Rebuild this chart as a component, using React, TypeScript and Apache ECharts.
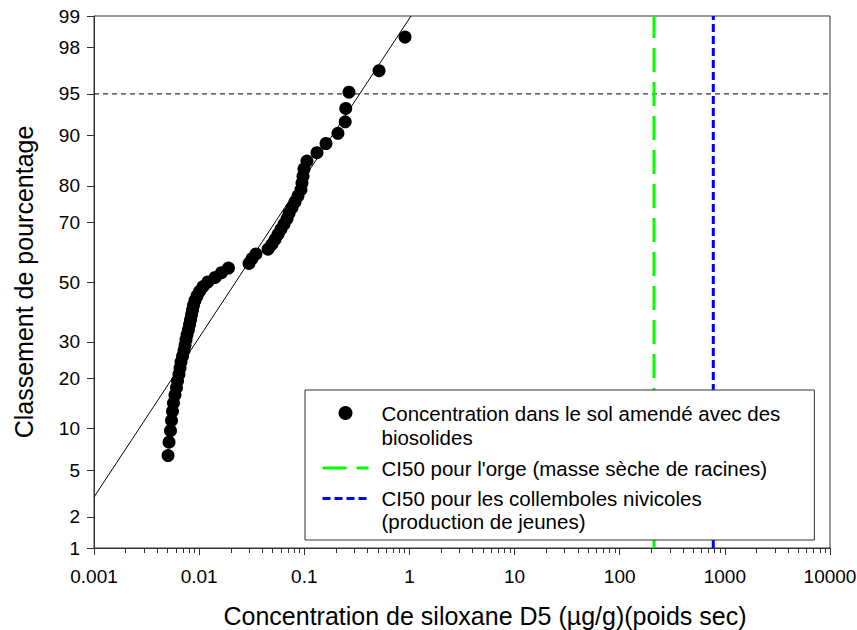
import React, { useEffect, useRef } from "react";
import * as echarts from "echarts";

// ---- Data ----
const concentration = [
  0.00506, 0.00517, 0.00534, 0.00546, 0.00558, 0.0057, 0.00589, 0.00609, 0.00623, 0.00643,
  0.00658, 0.00672, 0.00695, 0.00718, 0.00734, 0.0075, 0.00767, 0.00792, 0.0081, 0.00828,
  0.00846, 0.00865, 0.00884, 0.00913, 0.00954, 0.0101, 0.0109, 0.0121, 0.0142, 0.0163,
  0.019, 0.0298, 0.0318, 0.0347, 0.0452, 0.0493, 0.0527, 0.0562, 0.06, 0.0641,
  0.0685, 0.0715, 0.0764, 0.0816, 0.0871, 0.093, 0.0951, 0.0972, 0.0994, 0.106,
  0.132, 0.161, 0.209, 0.245, 0.248, 0.266, 0.514, 0.908,
];
const percentRank = [
  6.45, 8.06, 9.68, 11.29, 12.9, 14.52, 16.13, 17.74, 19.35, 20.97,
  22.58, 24.19, 25.81, 27.42, 29.03, 30.65, 32.26, 33.87, 35.48, 37.1,
  38.71, 40.32, 41.94, 43.55, 45.16, 46.77, 48.39, 50.0, 51.61, 53.23,
  54.84, 56.45, 58.06, 59.68, 61.29, 62.9, 64.52, 66.13, 67.74, 69.35,
  70.97, 72.58, 74.19, 75.81, 77.42, 79.03, 80.65, 82.26, 83.87, 85.48,
  87.1, 88.71, 90.32, 91.94, 93.55, 95.16, 96.77, 98.39,
];
const fitConc = [0.001, 1.035];
const fitPct = [3.0, 99];
const barleyIC50 = 212;
const springtailIC50 = 776;
const refPercent = 95;
const yTickPercents = [1, 2, 5, 10, 20, 30, 50, 70, 80, 90, 95, 98, 99];
const xTickLabels = [0.001, 0.01, 0.1, 1, 10, 100, 1000, 10000];
const minorMultipliers = [2, 3, 4, 5, 6, 7, 8, 9];

const NAME_PTS = "Concentration dans le sol amendé avec des";
const NAME_PTS2 = "biosolides";
const NAME_BARLEY = "CI50 pour l'orge (masse sèche de racines)";
const NAME_SPRING = "CI50 pour les collemboles nivicoles";
const NAME_SPRING2 = "(production de jeunes)";

// inverse standard normal CDF (Acklam)
function probit(p: number): number {
  const a = [-39.69683028665376, 220.9460984245205, -275.9285104469687, 138.357751867269, -30.66479806614716, 2.506628277459239];
  const b = [-54.47609879822406, 161.5858368580409, -155.6989798598866, 66.80131188771972, -13.28068155288572];
  const c = [-0.007784894002430293, -0.3223964580411365, -2.400758277161838, -2.549671010229297, 4.374664141464968, 2.938163982698783];
  const d = [0.007784695709041462, 0.3224671290700398, 2.445134137142996, 3.754408661907416];
  const plow = 0.02425;
  if (p < plow) {
    const q = Math.sqrt(-2 * Math.log(p));
    return (((((c[0] * q + c[1]) * q + c[2]) * q + c[3]) * q + c[4]) * q + c[5]) / ((((d[0] * q + d[1]) * q + d[2]) * q + d[3]) * q + 1);
  }
  if (p <= 1 - plow) {
    const q = p - 0.5;
    const r = q * q;
    return ((((((a[0] * r + a[1]) * r + a[2]) * r + a[3]) * r + a[4]) * r + a[5]) * q) / (((((b[0] * r + b[1]) * r + b[2]) * r + b[3]) * r + b[4]) * r + 1);
  }
  const q = Math.sqrt(-2 * Math.log(1 - p));
  return -(((((c[0] * q + c[1]) * q + c[2]) * q + c[3]) * q + c[4]) * q + c[5]) / ((((d[0] * q + d[1]) * q + d[2]) * q + d[3]) * q + 1);
}
const pz = (pct: number) => probit(pct / 100);

export default function App() {
  const ref = useRef<HTMLDivElement>(null);
  useEffect(() => {
    if (!ref.current) return;
    const chart = echarts.init(ref.current, undefined, { renderer: "svg" });
    const zMin = pz(yTickPercents[0]);
    const zMax = pz(yTickPercents[yTickPercents.length - 1]);
    const yTickZ = yTickPercents.map(pz);
    const xMin = xTickLabels[0];
    const xMax = xTickLabels[xTickLabels.length - 1];
    const minorTicksLog: number[] = [];
    for (let i = 0; i < xTickLabels.length - 1; i++) {
      minorMultipliers.forEach((m) => {
        minorTicksLog.push(Math.log10(xTickLabels[i] * m));
      });
    }
    const axisColor = "#333";
    const font = "'Liberation Sans', Arial, sans-serif";
    const clear = "rgba(0,0,0,0)";

    chart.setOption({
      animation: false,
      textStyle: { fontFamily: font },
      grid: {
        left: 94, top: 16, width: 736, height: 532,
        show: true, borderColor: axisColor, borderWidth: 1,
        outerBoundsMode: "none",
      },
      xAxis: [
        {
          type: "log", logBase: 10, min: xMin, max: xMax, splitNumber: 7,
          axisLine: { show: true, onZero: false, lineStyle: { color: axisColor, width: 1 } },
          axisTick: { show: true, length: 7, lineStyle: { color: axisColor } },
          axisLabel: {
            fontSize: 19, color: "#000", margin: 19, fontFamily: font,
            formatter: (v: number) => String(Number(v.toPrecision(4))),
          },
          splitLine: { show: false },
          name: "Concentration de siloxane D5 (µg/g)(poids sec)",
          nameLocation: "middle", nameGap: 55,
          nameTextStyle: { fontSize: 25, color: "#000", fontFamily: font, padding: [0, 0, 0, 46] },
        },
        {
          // minor (2..9) ticks of the logarithmic scale, in log10 units
          type: "value", min: Math.log10(xMin), max: Math.log10(xMax), position: "bottom",
          axisLine: { show: true, onZero: false, lineStyle: { color: axisColor, width: 1 } },
          axisTick: { show: true, length: 5, customValues: minorTicksLog, lineStyle: { color: axisColor } },
          axisLabel: { show: false },
          splitLine: { show: false },
        },
      ],
      yAxis: {
        type: "value", min: zMin, max: zMax,
        axisLine: { show: true, onZero: false, lineStyle: { color: axisColor, width: 1 } },
        axisTick: { show: true, length: 7, customValues: yTickZ, lineStyle: { color: axisColor } },
        axisLabel: {
          customValues: yTickZ, fontSize: 19, color: "#000", margin: 14, fontFamily: font,
          formatter: (v: number) => {
            let best = yTickPercents[0];
            let bd = Infinity;
            yTickPercents.forEach((p) => {
              const dd = Math.abs(pz(p) - v);
              if (dd < bd) { bd = dd; best = p; }
            });
            return String(best);
          },
        },
        splitLine: { show: false },
        name: "Classement de pourcentage",
        nameLocation: "middle", nameGap: 58,
        nameTextStyle: { fontSize: 25, color: "#000", fontFamily: font },
      },
      legend: {
        orient: "vertical", left: 305, top: 390,
        padding: [12, 34, 8, 16],
        itemGap: 2, itemWidth: 46, itemHeight: 14,
        backgroundColor: "#fff", borderColor: axisColor, borderWidth: 1,
        selectedMode: false,
        lineStyle: { width: 3 },
        textStyle: { fontSize: 20.5, color: "#000", fontFamily: font, padding: [0, 0, 0, 8] },
        data: [
          { name: NAME_PTS, textStyle: { lineHeight: 22 } },
          { name: NAME_PTS2, textStyle: { lineHeight: 22 } },
          { name: NAME_BARLEY, textStyle: { lineHeight: 36 } },
          { name: NAME_SPRING, textStyle: { lineHeight: 15 } },
          { name: NAME_SPRING2, textStyle: { lineHeight: 20 } },
        ],
      },
      series: [
        {
          name: "fit", type: "line", z: 1, silent: true, symbol: "none",
          lineStyle: { color: "#000", width: 1 },
          data: fitConc.map((c, i) => [c, pz(fitPct[i])]),
        },
        {
          name: "ref95", type: "line", z: 1, silent: true, symbol: "none",
          lineStyle: { color: "#000", width: 1, type: [5, 4] },
          data: [[xMin, pz(refPercent)], [xMax, pz(refPercent)]],
        },
        {
          name: NAME_BARLEY, type: "line", z: 2, symbol: "none",
          lineStyle: { color: "#00ff00", width: 3, type: [24, 10] },
          itemStyle: { color: clear, borderColor: clear, borderWidth: 0 },
          data: [[barleyIC50, zMin], [barleyIC50, zMax]],
        },
        {
          name: NAME_SPRING, type: "line", z: 2, symbol: "none",
          lineStyle: { color: "#0000ff", width: 3, type: [8, 4] },
          itemStyle: { color: clear, borderColor: clear, borderWidth: 0 },
          data: [[springtailIC50, zMin], [springtailIC50, zMax]],
        },
        {
          name: NAME_PTS, type: "scatter", z: 3, symbol: "circle", symbolSize: 13,
          itemStyle: { color: "#000", opacity: 1 },
          data: concentration.map((c, i) => [c, pz(percentRank[i])]),
        },
        { name: NAME_PTS2, type: "scatter", data: [], itemStyle: { color: clear } },
        { name: NAME_SPRING2, type: "scatter", data: [], itemStyle: { color: clear } },
      ],
    });
    return () => chart.dispose();
  }, []);
  return (
    <div
      ref={ref}
      style={{ position: "absolute", left: 0, top: 0, width: 857, height: 630, background: "#fff" }}
    />
  );
}
